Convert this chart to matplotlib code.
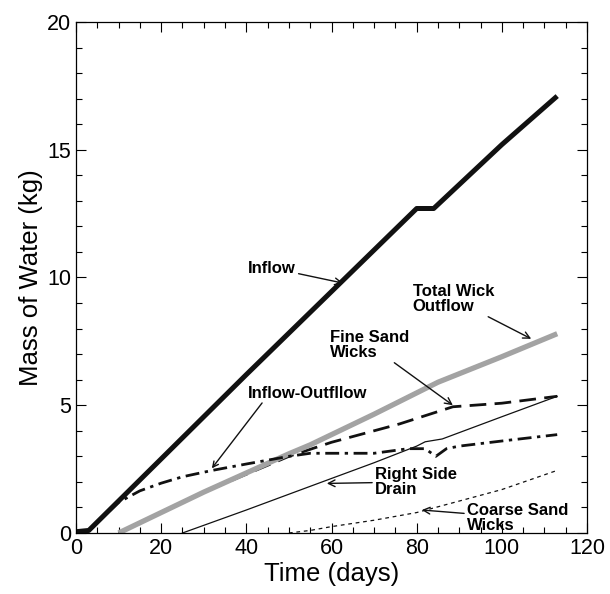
# water balance plot
import numpy as np
import matplotlib.pyplot as plt
from matplotlib.ticker import MultipleLocator

plt.rcParams['font.family'] = ['Liberation Sans', 'DejaVu Sans']

# data (time in days, mass in kg)
inflow_t = [0, 3, 20, 40, 60, 80, 84, 100, 113]
inflow_m = [0.05, 0.1, 2.9, 6.2, 9.45, 12.7, 12.7, 15.2, 17.1]

total_t = [10, 30, 50, 55, 70, 85, 100, 113]
total_m = [0.0, 1.6, 3.1, 3.45, 4.65, 5.9, 6.9, 7.8]

fine_t = [10, 30, 50, 60, 76, 88.5, 100, 113]
fine_m = [0.0, 1.6, 3.0, 3.55, 4.27, 4.94, 5.08, 5.35]

inout_t = [3, 10, 15, 20, 25, 32, 40, 50, 55, 60, 70, 78, 82, 84.5, 87, 90, 100, 113]
inout_m = [0.1, 1.2, 1.65, 1.95, 2.2, 2.45, 2.7, 3.0, 3.12, 3.12, 3.12, 3.3, 3.3, 3.0, 3.3, 3.4, 3.6, 3.85]

drain_t = [25, 40, 57, 70, 80, 82, 86, 100, 113]
drain_m = [0.0, 0.9, 1.95, 2.75, 3.4, 3.57, 3.68, 4.55, 5.35]

coarse_t = [50, 55, 60, 70, 80, 90, 100, 113]
coarse_m = [0.0, 0.1, 0.25, 0.5, 0.8, 1.25, 1.7, 2.45]

fig = plt.figure(figsize=(6.1, 5.94), dpi=100)
ax = fig.add_axes([0.1246, 0.1027, 0.8377, 0.8603])

ax.plot(inflow_t, inflow_m, color='#111111', lw=3.6, solid_capstyle='butt')
ax.plot(fine_t, fine_m, color='#111111', lw=2.0, dashes=(6, 3))
ax.plot(total_t, total_m, color='#a3a3a3', lw=3.8, solid_capstyle='butt')
ax.plot(inout_t, inout_m, color='#111111', lw=2.0, dashes=(5, 2, 1.2, 2))
ax.plot(drain_t, drain_m, color='#111111', lw=0.9)
ax.plot(coarse_t, coarse_m, color='#111111', lw=0.9, dashes=(3, 3))

# labels with arrows
arr = dict(arrowstyle='->', color='#111111', lw=1.0, shrinkA=0, shrinkB=0)
fs = 12
ax.annotate('Inflow', xy=(62.7, 9.78), xytext=(40.4, 10.37), fontsize=fs, fontweight='bold',
            va='center', ha='left', arrowprops=arr)
ax.annotate('Total Wick\nOutflow', xy=(106.9, 7.6), xytext=(79.1, 9.16), fontsize=fs,
            fontweight='bold', va='center', ha='left', linespacing=1.0, arrowprops=arr)
ax.annotate('Fine Sand\nWicks', xy=(88.5, 5.0), xytext=(59.7, 7.36), fontsize=fs,
            fontweight='bold', va='center', ha='left', linespacing=1.0, arrowprops=arr)
ax.annotate('', xy=(31.9, 2.53), xytext=(43.7, 5.09), arrowprops=arr)
ax.text(40.4, 5.45, 'Inflow-Outfllow', fontsize=fs, fontweight='bold', va='center', ha='left')
ax.annotate('Right Side\nDrain', xy=(58.9, 1.94), xytext=(70.2, 2.0), fontsize=fs,
            fontweight='bold', va='center', ha='left', linespacing=1.0, arrowprops=arr)
ax.annotate('Coarse Sand\nWicks', xy=(81.2, 0.9), xytext=(91.8, 0.6), fontsize=fs,
            fontweight='bold', va='center', ha='left', linespacing=1.0, arrowprops=arr)

ax.set_xlim(0, 120)
ax.set_ylim(0, 20)
ax.xaxis.set_major_locator(MultipleLocator(20))
ax.xaxis.set_minor_locator(MultipleLocator(5))
ax.yaxis.set_major_locator(MultipleLocator(5))
ax.yaxis.set_minor_locator(MultipleLocator(1))
ax.tick_params(which='both', direction='in', top=True, right=True, labelsize=15.5, width=0.8)
ax.tick_params(which='major', length=7)
ax.tick_params(which='minor', length=4)
for s in ax.spines.values():
    s.set_linewidth(0.9)

ax.set_xlabel('Time (days)', fontsize=18.5, labelpad=2)
ax.set_ylabel('Mass of Water (kg)', fontsize=18.5, labelpad=3)

fig.savefig('out.png', dpi=100)
